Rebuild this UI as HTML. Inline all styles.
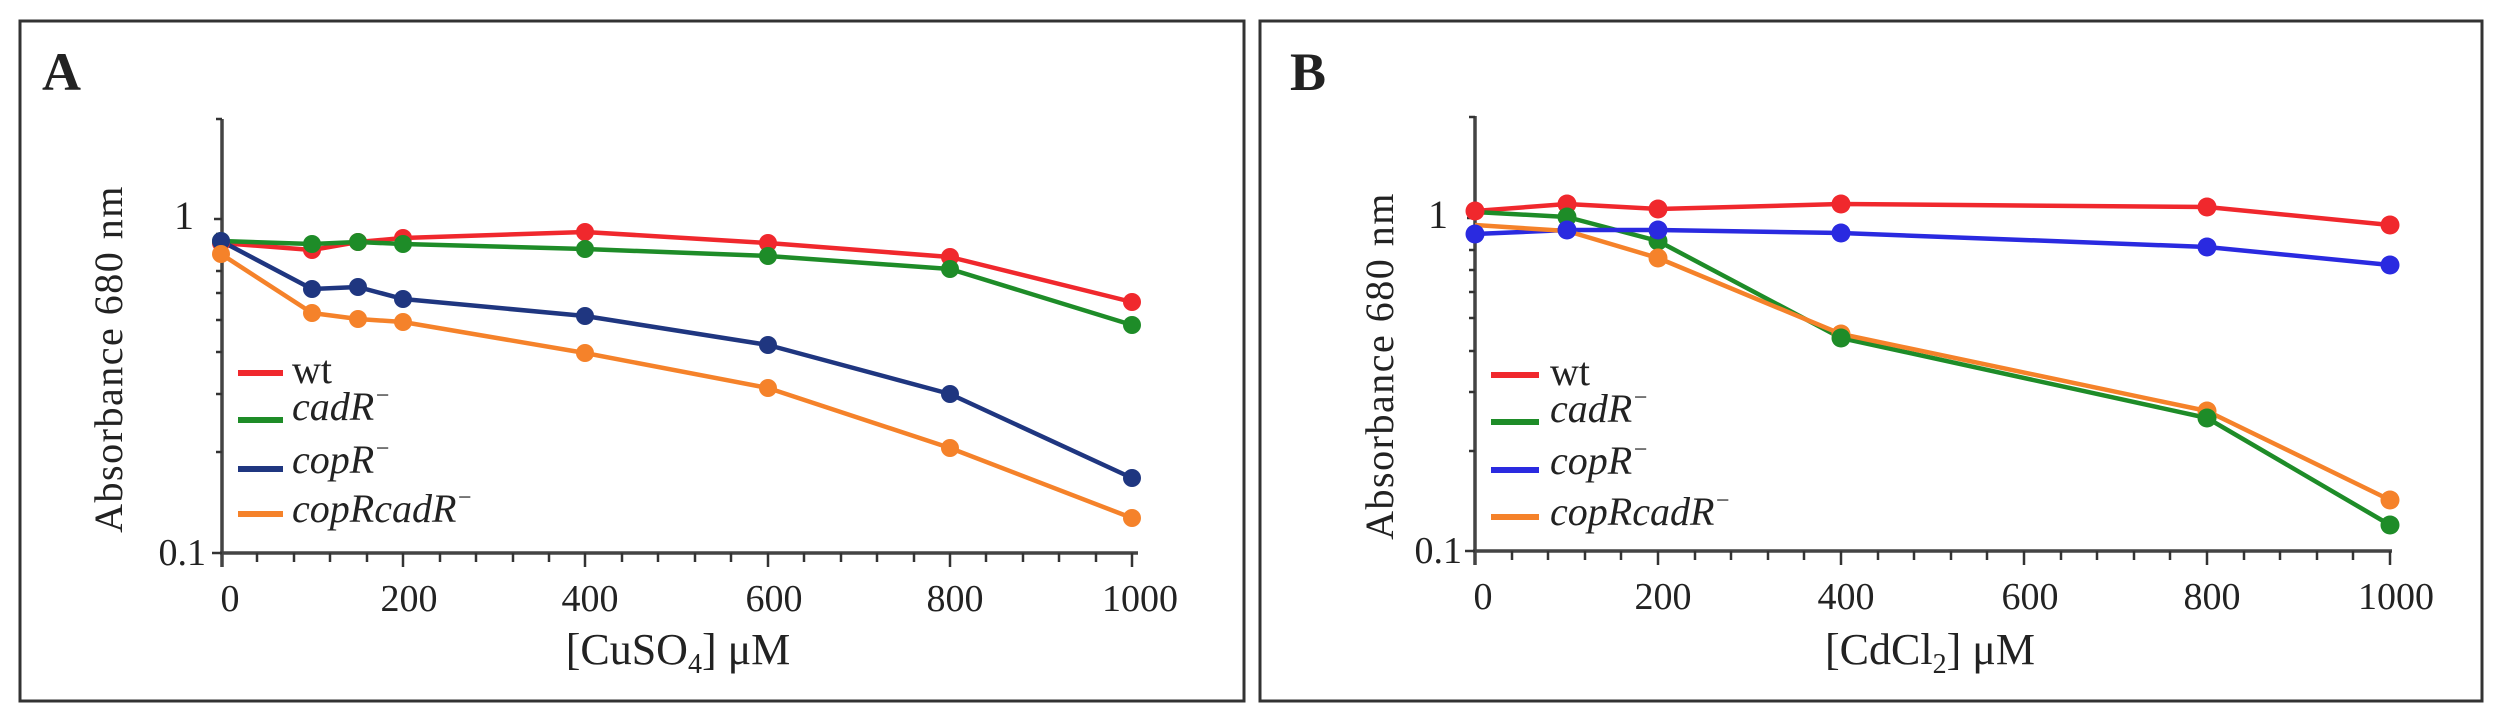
<!DOCTYPE html>
<html><head><meta charset="utf-8"><style>
html,body{margin:0;padding:0;background:#fff;}
svg{display:block;}
text{font-family:"Liberation Serif",serif;fill:#222;}
</style></head><body>
<svg width="2498" height="726" viewBox="0 0 2498 726" xmlns="http://www.w3.org/2000/svg">
<rect x="20" y="21" width="1224" height="680" fill="none" stroke="#333" stroke-width="3"/>
<rect x="1260" y="21" width="1222" height="680" fill="none" stroke="#333" stroke-width="3"/>

<!-- Panel A -->
<text x="42" y="90" font-size="54" font-weight="bold">A</text>
<g stroke="#444" stroke-width="3.5" fill="none">
<line x1="222" y1="119" x2="222" y2="567"/>
<line x1="220" y1="553" x2="1138" y2="553"/>
</g>
<g stroke="#333" stroke-width="2.5">
<line x1="214" y1="219" x2="222" y2="219"/>
<line x1="212" y1="553" x2="222" y2="553"/>
<line x1="216" y1="452" x2="222" y2="452"/>
<line x1="216" y1="394" x2="222" y2="394"/>
<line x1="216" y1="352" x2="222" y2="352"/>
<line x1="216" y1="320" x2="222" y2="320"/>
<line x1="216" y1="293" x2="222" y2="293"/>
<line x1="216" y1="271" x2="222" y2="271"/>
<line x1="216" y1="251" x2="222" y2="251"/>
<line x1="216" y1="234" x2="222" y2="234"/>
<line x1="216" y1="119" x2="222" y2="119"/>
</g>
<g stroke="#333" stroke-width="2.5">
<line x1="257" y1="553" x2="257" y2="562"/><line x1="294" y1="553" x2="294" y2="562"/><line x1="330" y1="553" x2="330" y2="562"/><line x1="367" y1="553" x2="367" y2="562"/>
<line x1="403" y1="553" x2="403" y2="567"/><line x1="440" y1="553" x2="440" y2="562"/><line x1="476" y1="553" x2="476" y2="562"/><line x1="513" y1="553" x2="513" y2="562"/><line x1="549" y1="553" x2="549" y2="562"/>
<line x1="585" y1="553" x2="585" y2="567"/><line x1="622" y1="553" x2="622" y2="562"/><line x1="658" y1="553" x2="658" y2="562"/><line x1="695" y1="553" x2="695" y2="562"/><line x1="731" y1="553" x2="731" y2="562"/>
<line x1="768" y1="553" x2="768" y2="567"/><line x1="804" y1="553" x2="804" y2="562"/><line x1="841" y1="553" x2="841" y2="562"/><line x1="877" y1="553" x2="877" y2="562"/><line x1="914" y1="553" x2="914" y2="562"/>
<line x1="950" y1="553" x2="950" y2="567"/><line x1="986" y1="553" x2="986" y2="562"/><line x1="1023" y1="553" x2="1023" y2="562"/><line x1="1059" y1="553" x2="1059" y2="562"/><line x1="1096" y1="553" x2="1096" y2="562"/>
<line x1="1132" y1="553" x2="1132" y2="567"/>
</g>
<g font-size="38" text-anchor="middle">
<text x="230" y="611">0</text><text x="409" y="611">200</text><text x="590" y="611">400</text><text x="774" y="611">600</text><text x="955" y="611">800</text><text x="1140" y="611">1000</text>
</g>
<text x="194" y="229" font-size="40" text-anchor="end">1</text>
<text x="206" y="565" font-size="38" text-anchor="end">0.1</text>
<text x="678" y="664" font-size="44" text-anchor="middle">[CuSO<tspan font-size="28" dy="9">4</tspan><tspan dy="-9">] μM</tspan></text>
<text transform="translate(122,359) rotate(-90)" font-size="40" text-anchor="middle" letter-spacing="1.5">Absorbance 680 nm</text>

<g fill="none" stroke-width="4.5" stroke-linejoin="round">
<polyline stroke="#f0282d" points="221,243 312,250 358,242 403,238 585,232 768,243 950,257 1132,302"/>
<polyline stroke="#1e8c28" points="221,241 312,244 358,242 403,244 585,249 768,256 950,269 1132,325"/>
<polyline stroke="#1f3680" points="221,241 312,289 358,287 403,299 585,316 768,345 950,394 1132,478"/>
<polyline stroke="#f5822a" points="221,254 312,313 358,319 403,322 585,353 768,388 950,448 1132,518"/>
</g>
<g fill="#f0282d"><circle cx="221" cy="243" r="9"/><circle cx="312" cy="250" r="9"/><circle cx="358" cy="242" r="9"/><circle cx="403" cy="238" r="9"/><circle cx="585" cy="232" r="9"/><circle cx="768" cy="243" r="9"/><circle cx="950" cy="257" r="9"/><circle cx="1132" cy="302" r="9"/></g>
<g fill="#1e8c28"><circle cx="221" cy="241" r="9"/><circle cx="312" cy="244" r="9"/><circle cx="358" cy="242" r="9"/><circle cx="403" cy="244" r="9"/><circle cx="585" cy="249" r="9"/><circle cx="768" cy="256" r="9"/><circle cx="950" cy="269" r="9"/><circle cx="1132" cy="325" r="9"/></g>
<g fill="#1f3680"><circle cx="221" cy="241" r="9"/><circle cx="312" cy="289" r="9"/><circle cx="358" cy="287" r="9"/><circle cx="403" cy="299" r="9"/><circle cx="585" cy="316" r="9"/><circle cx="768" cy="345" r="9"/><circle cx="950" cy="394" r="9"/><circle cx="1132" cy="478" r="9"/></g>
<g fill="#f5822a"><circle cx="221" cy="254" r="9"/><circle cx="312" cy="313" r="9"/><circle cx="358" cy="319" r="9"/><circle cx="403" cy="322" r="9"/><circle cx="585" cy="353" r="9"/><circle cx="768" cy="388" r="9"/><circle cx="950" cy="448" r="9"/><circle cx="1132" cy="518" r="9"/></g>

<g stroke-width="6">
<line x1="238" y1="373" x2="283" y2="373" stroke="#f0282d"/>
<line x1="238" y1="420" x2="283" y2="420" stroke="#1e8c28"/>
<line x1="238" y1="469" x2="283" y2="469" stroke="#1f3680"/>
<line x1="238" y1="514" x2="283" y2="514" stroke="#f5822a"/>
</g>
<g font-size="40">
<text x="292" y="383">wt</text>
<text x="292" y="420" font-style="italic">cadR<tspan font-size="24" dy="-17">−</tspan></text>
<text x="292" y="473" font-style="italic">copR<tspan font-size="24" dy="-17">−</tspan></text>
<text x="292" y="522" font-style="italic">copRcadR<tspan font-size="24" dy="-17">−</tspan></text>
</g>

<!-- Panel B -->
<text x="1290" y="90" font-size="54" font-weight="bold">B</text>
<g stroke="#444" stroke-width="3.5" fill="none">
<line x1="1475" y1="116" x2="1475" y2="565"/>
<line x1="1473" y1="551" x2="2392" y2="551"/>
</g>
<g stroke="#333" stroke-width="2.5">
<line x1="1467" y1="218" x2="1475" y2="218"/>
<line x1="1465" y1="551" x2="1475" y2="551"/>
<line x1="1469" y1="451" x2="1475" y2="451"/>
<line x1="1469" y1="392" x2="1475" y2="392"/>
<line x1="1469" y1="351" x2="1475" y2="351"/>
<line x1="1469" y1="318" x2="1475" y2="318"/>
<line x1="1469" y1="292" x2="1475" y2="292"/>
<line x1="1469" y1="270" x2="1475" y2="270"/>
<line x1="1469" y1="250" x2="1475" y2="250"/>
<line x1="1469" y1="233" x2="1475" y2="233"/>
<line x1="1469" y1="117" x2="1475" y2="117"/>
</g>
<g stroke="#333" stroke-width="2.5">
<line x1="1512" y1="551" x2="1512" y2="560"/><line x1="1548" y1="551" x2="1548" y2="560"/><line x1="1585" y1="551" x2="1585" y2="560"/><line x1="1621" y1="551" x2="1621" y2="560"/>
<line x1="1658" y1="551" x2="1658" y2="565"/><line x1="1695" y1="551" x2="1695" y2="560"/><line x1="1731" y1="551" x2="1731" y2="560"/><line x1="1768" y1="551" x2="1768" y2="560"/><line x1="1804" y1="551" x2="1804" y2="560"/>
<line x1="1841" y1="551" x2="1841" y2="565"/><line x1="1878" y1="551" x2="1878" y2="560"/><line x1="1914" y1="551" x2="1914" y2="560"/><line x1="1951" y1="551" x2="1951" y2="560"/><line x1="1987" y1="551" x2="1987" y2="560"/>
<line x1="2024" y1="551" x2="2024" y2="565"/><line x1="2061" y1="551" x2="2061" y2="560"/><line x1="2097" y1="551" x2="2097" y2="560"/><line x1="2134" y1="551" x2="2134" y2="560"/><line x1="2170" y1="551" x2="2170" y2="560"/>
<line x1="2207" y1="551" x2="2207" y2="565"/><line x1="2244" y1="551" x2="2244" y2="560"/><line x1="2280" y1="551" x2="2280" y2="560"/><line x1="2317" y1="551" x2="2317" y2="560"/><line x1="2353" y1="551" x2="2353" y2="560"/>
<line x1="2390" y1="551" x2="2390" y2="565"/>
</g>
<g font-size="38" text-anchor="middle">
<text x="1483" y="609">0</text><text x="1663" y="609">200</text><text x="1846" y="609">400</text><text x="2030" y="609">600</text><text x="2212" y="609">800</text><text x="2396" y="609">1000</text>
</g>
<text x="1448" y="228" font-size="40" text-anchor="end">1</text>
<text x="1462" y="563" font-size="38" text-anchor="end">0.1</text>
<text x="1930" y="664" font-size="44" text-anchor="middle">[CdCl<tspan font-size="28" dy="9">2</tspan><tspan dy="-9">] μM</tspan></text>
<text transform="translate(1393,366) rotate(-90)" font-size="40" text-anchor="middle" letter-spacing="1.5">Absorbance 680 nm</text>

<g fill="none" stroke-width="4.5" stroke-linejoin="round">
<polyline stroke="#f0282d" points="1475,211 1567,204 1658,209 1841,204 2207,207 2390,225"/>
<polyline stroke="#1e8c28" points="1475,212 1567,217 1658,241 1841,338 2207,418 2390,525"/>
<polyline stroke="#2a2ae0" points="1475,234 1567,230 1658,230 1841,233 2207,247 2390,265"/>
<polyline stroke="#f5822a" points="1475,225 1567,231 1658,258 1841,334 2207,411 2390,500"/>
</g>
<g fill="#f0282d"><circle cx="1475" cy="211" r="9.5"/><circle cx="1567" cy="204" r="9.5"/><circle cx="1658" cy="209" r="9.5"/><circle cx="1841" cy="204" r="9.5"/><circle cx="2207" cy="207" r="9.5"/><circle cx="2390" cy="225" r="9.5"/></g>
<g fill="#1e8c28"><circle cx="1567" cy="217" r="9.5"/><circle cx="1658" cy="241" r="9.5"/></g>
<g fill="#2a2ae0"><circle cx="1475" cy="234" r="9.5"/><circle cx="1567" cy="230" r="9.5"/><circle cx="1658" cy="230" r="9.5"/><circle cx="1841" cy="233" r="9.5"/><circle cx="2207" cy="247" r="9.5"/><circle cx="2390" cy="265" r="9.5"/></g>
<g fill="#f5822a"><circle cx="1658" cy="258" r="9.5"/><circle cx="1841" cy="334" r="9.5"/><circle cx="2207" cy="411" r="9.5"/><circle cx="2390" cy="500" r="9.5"/></g>
<g fill="#1e8c28"><circle cx="1841" cy="338" r="9.5"/><circle cx="2207" cy="418" r="9.5"/><circle cx="2390" cy="525" r="9.5"/></g>

<g stroke-width="6">
<line x1="1491" y1="375" x2="1539" y2="375" stroke="#f0282d"/>
<line x1="1491" y1="422" x2="1539" y2="422" stroke="#1e8c28"/>
<line x1="1491" y1="470" x2="1539" y2="470" stroke="#2a2ae0"/>
<line x1="1491" y1="517" x2="1539" y2="517" stroke="#f5822a"/>
</g>
<g font-size="40">
<text x="1550" y="385">wt</text>
<text x="1550" y="422" font-style="italic">cadR<tspan font-size="24" dy="-17">−</tspan></text>
<text x="1550" y="474" font-style="italic">copR<tspan font-size="24" dy="-17">−</tspan></text>
<text x="1550" y="525" font-style="italic">copRcadR<tspan font-size="24" dy="-17">−</tspan></text>
</g>
</svg>
</body></html>
